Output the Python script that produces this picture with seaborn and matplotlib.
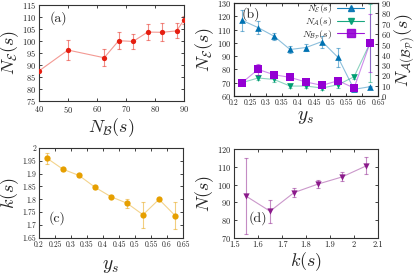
import numpy as np
import pandas as pd
import matplotlib
matplotlib.use("Agg")
import matplotlib.pyplot as plt
import seaborn as sns
from matplotlib.lines import Line2D

sns.set_style("ticks")
plt.rcParams['font.family'] = ['cmr10', 'DejaVu Serif']
plt.rcParams['mathtext.fontset'] = 'cm'
plt.rcParams['axes.formatter.use_mathtext'] = True

# (a)
a_x = [40, 50, 62.5, 67.5, 72.5, 77.5, 82.5, 87.5, 90]
a_y = [87.5, 96.2, 93.0, 100.1, 99.8, 103.7, 103.6, 104.2, 108.7]
a_err = [0.0, 4.3, 3.5, 3.5, 3.3, 3.2, 3.8, 3.1, 1.5]

# (b)
ys = [0.225, 0.275, 0.325, 0.375, 0.425, 0.475, 0.525, 0.575, 0.625]
b_NE = [117, 111.5, 105, 95, 96.5, 101, 89, 65, 67]
b_NE_err = [8, 5, 2.5, 2.5, 2.5, 4.5, 7, 1, 0.5]
b_NA = [12.9, 17.4, 16.0, 9.6, 9.6, 7.7, 10.9, 18.6, 51.4]
b_NA_err = [1.5, 2.0, 2.0, 1.5, 1.5, 2.0, 3.0, 2.0, 38.0]
b_NB = [12.9, 25.7, 20.6, 18.0, 13.5, 10.3, 14.8, 7.7, 51.4]
b_NB_err = [2.0, 5.0, 2.5, 2.0, 2.0, 2.0, 2.5, 1.5, 28.0]

# (c)
c_k = [1.96, 1.917, 1.893, 1.847, 1.81, 1.785, 1.74, 1.80, 1.737]
c_err = [0.022, 0.005, 0.005, 0.005, 0.005, 0.018, 0.05, 0.005, 0.053]

# (d)
d_k = [1.55, 1.65, 1.75, 1.85, 1.95, 2.05]
d_N = [93.5, 85, 95.5, 100.3, 104.3, 110.5]
d_err = [21.5, 6.5, 2.3, 2.2, 2.5, 4.8]

ys_ticks = [0.2, 0.25, 0.3, 0.35, 0.4, 0.45, 0.5, 0.55, 0.6, 0.65]
ys_ticklabels = ['0.2', '0.25', '0.3', '0.35', '0.4', '0.45', '0.5', '0.55', '0.6', '0.65']

RED = '#e51e10'
BLUE = '#0072b2'
GREEN = '#009e73'
PURPLE = '#9400d3'
ORANGE = '#e69f00'
DPURP = '#8b1a8b'

fig = plt.figure(figsize=(4.15, 2.75), dpi=100)
axa = fig.add_axes([0.094, 0.633, 0.349, 0.349])
axb = fig.add_axes([0.564, 0.651, 0.347, 0.338])
axc = fig.add_axes([0.094, 0.135, 0.347, 0.327])
axd = fig.add_axes([0.564, 0.135, 0.347, 0.323])


def series(ax, x, y, e, color, marker, ms, zorder=3):
    df = pd.DataFrame({'x': x, 'y': y})
    ax.errorbar(x, y, yerr=e, fmt='none', ecolor=color, alpha=0.5, elinewidth=0.8,
                capsize=1.5, capthick=0.8, zorder=zorder - 1)
    sns.lineplot(data=df, x='x', y='y', ax=ax, color=color, alpha=0.45, lw=0.8,
                 legend=False, zorder=zorder - 1)
    sns.scatterplot(data=df, x='x', y='y', ax=ax, color=color, marker=marker,
                    s=ms ** 2, edgecolor=color, linewidth=0, legend=False,
                    zorder=zorder)


def style(ax, fs=6):
    ax.tick_params(direction='in', length=2.5, width=0.6, labelsize=fs, pad=2,
                   top=True, right=True, colors='#222222')
    for s in ax.spines.values():
        s.set_linewidth(0.8)
        s.set_color('#333333')
    ax.set_xlabel('')
    ax.set_ylabel('')


# (a)
series(axa, a_x, a_y, a_err, RED, 'o', 3.8)
axa.set_xlim(40, 90)
axa.set_ylim(75, 115)
axa.set_xticks(range(40, 91, 10))
axa.set_yticks(range(75, 116, 5))
style(axa, 6)
axa.set_xlabel(r'$N_{\mathcal{B}}(s)$', fontsize=13, labelpad=1)
axa.set_ylabel(r'$N_{\mathcal{E}}(s)$', fontsize=13, labelpad=1)
axa.text(0.07, 0.93, '(a)', transform=axa.transAxes, fontsize=10, va='top')

# (b)
axb2 = axb.twinx()
series(axb, ys, b_NE, b_NE_err, BLUE, '^', 4.8, zorder=5)
series(axb2, ys, b_NA, b_NA_err, GREEN, 'v', 4.8, zorder=4)
series(axb2, ys, b_NB, b_NB_err, PURPLE, 's', 5.8, zorder=5)
axb.set_xlim(0.2, 0.65)
axb.set_ylim(60, 130)
axb2.set_ylim(0, 90)
axb.set_xticks(ys_ticks)
axb.set_xticklabels(ys_ticklabels)
axb.set_yticks(range(60, 131, 10))
axb2.set_yticks(range(0, 91, 10))
style(axb, 5.5)
axb.tick_params(right=False, labelsize=6, axis='y')
axb2.tick_params(direction='in', length=2.5, width=0.6, labelsize=6, pad=2,
                 colors='#222222')
axb2.set_xlabel('')
axb2.set_ylabel(r'$N_{\mathcal{A}(\mathcal{B}_\mathcal{P})}(s)$', fontsize=13, labelpad=1)
axb.set_xlabel(r'$y_s$', fontsize=14, labelpad=1)
axb.set_ylabel(r'$N_{\mathcal{E}}(s)$', fontsize=13, labelpad=1)
axb.text(0.05, 0.96, '(b)', transform=axb.transAxes, fontsize=10, va='top')
hs = [Line2D([], [], color=c, marker=m, ms=s, lw=0.8, alpha=0.9) for c, m, s in
      [(BLUE, '^', 4.5), (GREEN, 'v', 4.5), (PURPLE, 's', 5.5)]]
labels = [r'$N_{\mathcal{E}}(s)$', r'$N_{\mathcal{A}}(s)$', r'$N_{\mathcal{B}_\mathcal{P}}(s)$']
leg = axb2.legend(hs, labels, loc='upper right', bbox_to_anchor=(0.91, 1.02),
                  frameon=False, markerfirst=False, fontsize=7, handlelength=2.8,
                  labelspacing=0.0, handletextpad=0.5, borderaxespad=0.0,
                  borderpad=0.1)

# (c)
series(axc, ys, c_k, c_err, ORANGE, 'o', 4.5)
axc.set_xlim(0.2, 0.65)
axc.set_ylim(1.65, 2.0)
axc.set_xticks(ys_ticks)
axc.set_xticklabels(ys_ticklabels)
axc.set_yticks([1.65, 1.7, 1.75, 1.8, 1.85, 1.9, 1.95, 2.0])
axc.set_yticklabels(['1.65', '1.7', '1.75', '1.8', '1.85', '1.9', '1.95', '2'])
style(axc, 5.5)
axc.set_xlabel(r'$y_s$', fontsize=14, labelpad=6)
axc.set_ylabel(r'$k(s)$', fontsize=13, labelpad=1)
axc.text(0.07, 0.3, '(c)', transform=axc.transAxes, fontsize=10, va='top')

# (d)
series(axd, d_k, d_N, d_err, DPURP, 'v', 4.5)
axd.set_xlim(1.5, 2.1)
axd.set_ylim(70, 120)
axd.set_xticks([1.5, 1.6, 1.7, 1.8, 1.9, 2.0, 2.1])
axd.set_xticklabels(['1.5', '1.6', '1.7', '1.8', '1.9', '2', '2.1'])
axd.set_yticks(range(70, 121, 10))
style(axd, 6)
axd.set_xlabel(r'$k(s)$', fontsize=13, labelpad=1)
axd.set_ylabel(r'$N(s)$', fontsize=13, labelpad=1)
axd.text(0.1, 0.3, '(d)', transform=axd.transAxes, fontsize=10, va='top')

fig.savefig('out.png', dpi=100)
